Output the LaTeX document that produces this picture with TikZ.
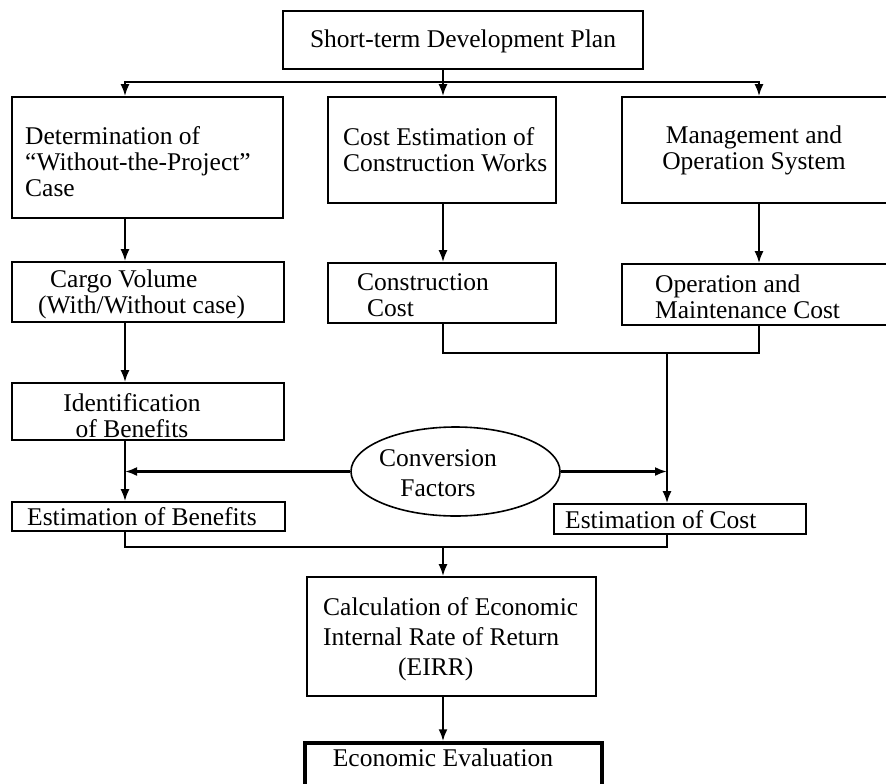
\documentclass[tikz,border=0pt]{standalone}
\usepackage{fontspec}
\setmainfont{Liberation Serif}
\usetikzlibrary{arrows.meta,shapes.geometric}

\tikzset{
  box/.style={draw, line width=1.6pt, rectangle, inner sep=0pt},
  finalbox/.style={draw, line width=3.5pt, rectangle, inner sep=0pt},
  oval/.style={draw, line width=1.6pt, ellipse, inner sep=0pt},
  txt/.style={inner sep=0pt, font=\fontsize{25.5}{26}\selectfont},
  wide/.style={inner sep=0pt, font=\fontsize{25.5}{30}\selectfont},
  link/.style={line width=2.2pt},
  arr/.style={line width=2.2pt, -{Latex[length=12pt,width=9pt]}}
}

\begin{document}
\begin{tikzpicture}[x=1pt,y=-1pt]
\useasboundingbox (0,0) rectangle (886,784);
\clip (0,0) rectangle (886,784);
\fill[white] (0,0) rectangle (886,784);

% column lines
\coordinate (lcol) at (125,0);
\coordinate (mcol) at (443,0);
\coordinate (rcol) at (759,0);
\coordinate (ccol) at (667,0);

% boxes
\node[box, minimum width=360pt, minimum height=58pt] (plan) at (463,40) {};
\node[txt] (planT) at (463,41) {Short-term Development Plan};

\node[box, minimum width=271pt, minimum height=121pt] (det) at (147.5,157.5) {};
\node[txt, align=left, anchor=west] (detT) at (25,162) {Determination of\\“Without-the-Project”\\Case};

\node[box, minimum width=228pt, minimum height=106pt] (cost) at (442,150) {};
\node[txt, align=left, anchor=west] (costT) at (343,150) {Cost Estimation of\\Construction Works};

\node[box, minimum width=278pt, minimum height=106pt] (mgmt) at (761,150) {};
\node[txt, align=center] (mgmtT) at (754,150) {Management and\\Operation System};

\node[box, minimum width=272pt, minimum height=60pt] (cargo) at (148,292) {};
\node[txt, align=left, anchor=west] (cargoT) at (38,294.5) {\hspace*{12pt}Cargo Volume\\(With/Without case)};

\node[box, minimum width=228pt, minimum height=60pt] (ccost) at (442,293) {};
\node[txt, align=left, anchor=west] (ccostT) at (357,295) {Construction\\\hspace*{10pt}Cost};

\node[box, minimum width=278pt, minimum height=61pt] (om) at (761,294.5) {};
\node[txt, align=left, anchor=west] (omT) at (655,296.5) {Operation and\\Maintenance Cost};

\node[box, minimum width=272pt, minimum height=57pt] (ident) at (148,411.5) {};
\node[txt, align=center] (identT) at (132,415.5) {Identification\\of Benefits};

\node[oval, minimum width=209pt, minimum height=89pt] (conv) at (455.5,471.5) {};
\node[wide, align=center] (convT) at (438,473) {Conversion\\Factors};

\node[box, minimum width=273pt, minimum height=29pt] (ebene) at (148.5,516.5) {};
\node[txt, anchor=west] (ebeneT) at (27,517) {Estimation of Benefits};

\node[box, minimum width=252pt, minimum height=30pt] (ecost) at (680,519) {};
\node[txt, anchor=west] (ecostT) at (565,520) {Estimation of Cost};

\node[box, minimum width=289pt, minimum height=119pt] (calc) at (451.5,636.5) {};
\node[wide, align=left, anchor=west] (calcT) at (323,639) {Calculation of Economic\\Internal Rate of Return\\\hspace*{75pt}(EIRR)};

\node[finalbox, minimum width=297pt, minimum height=80pt] (eval) at (453.5,783) {};
\node[txt] (evalT) at (443,758) {Economic Evaluation};

% split below the plan
\coordinate (split) at (443,82);
\draw[link] (plan.south -| split) -- (split);
\draw[arr] (split) -- (cost.north -| mcol);
\draw[arr] (split) -| (det.north -| lcol);
\draw[arr] (split) -| (mgmt.north -| rcol);

% left column
\draw[arr] (det.south -| lcol) -- (cargo.north -| lcol);
\draw[arr] (cargo.south -| lcol) -- (ident.north -| lcol);
\draw[arr] (ident.south -| lcol) -- (ebene.north -| lcol);

% middle and right columns
\draw[arr] (cost.south -| mcol) -- (ccost.north -| mcol);
\draw[arr] (mgmt.south -| rcol) -- (om.north -| rcol);

% cost join
\coordinate (cjoin) at (667,353);
\draw[link] (ccost.south -| mcol) |- (cjoin);
\draw[link] (om.south -| rcol) |- (cjoin);
\draw[arr] (cjoin) -- (ecost.north -| ccol);

% conversion factors feed both estimates
\draw[arr] (conv.west) -- (conv.west -| lcol);
\draw[arr] (conv.east) -- (conv.east -| ccol);

% benefit/cost join into the EIRR calculation
\coordinate (bjoin) at (443,547);
\draw[link] (ebene.south -| lcol) |- (bjoin);
\draw[link] (ecost.south -| ccol) |- (bjoin);
\draw[arr] (bjoin) -- (calc.north -| mcol);
\draw[arr] (calc.south -| mcol) -- (eval.north -| mcol);
\end{tikzpicture}
\end{document}
